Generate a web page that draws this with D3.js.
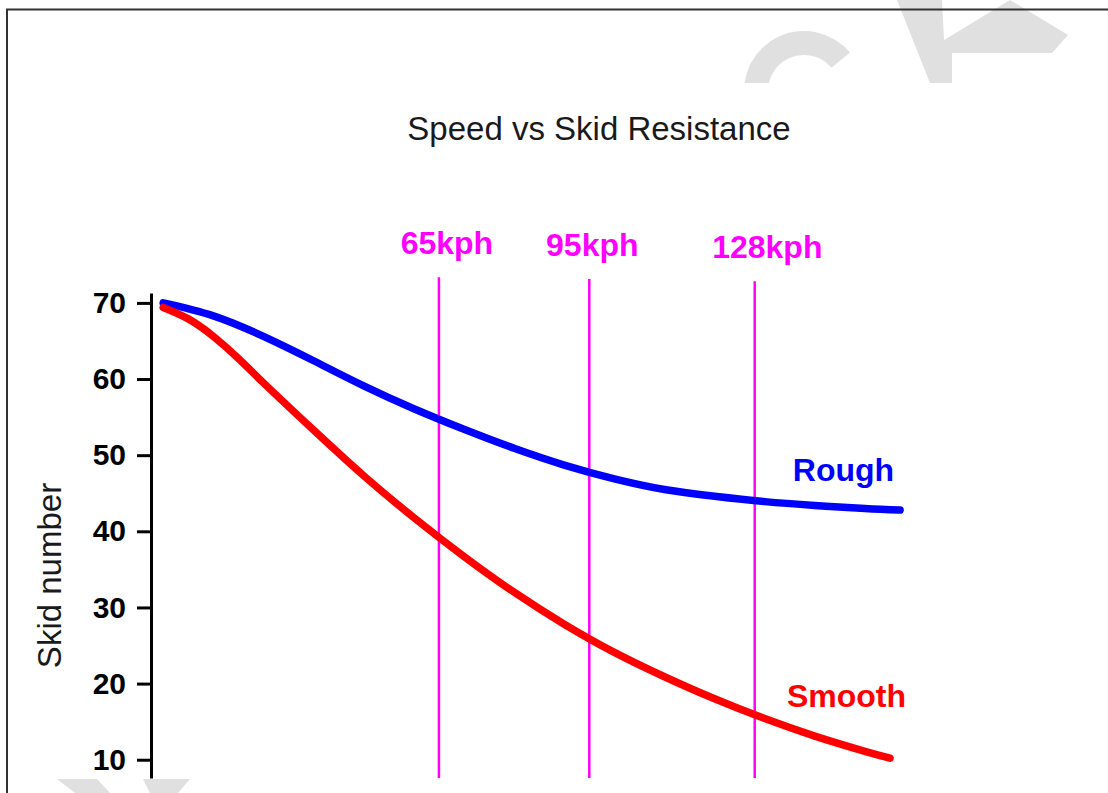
<!DOCTYPE html>
<html><head><meta charset="utf-8">
<script src="https://cdn.jsdelivr.net/npm/d3@7"></script>
<style>html,body{margin:0;padding:0;background:#fff;} svg{display:block;}</style>
</head><body>
<script>
// ---- data ----
const roughSpeed  = [10, 20, 30, 40, 50, 60, 70, 80, 90, 100, 110, 120, 130, 140, 150, 157];
const roughSkid   = [70, 68.3, 65.6, 62.4, 59.1, 56.1, 53.4, 50.9, 48.7, 46.9, 45.5, 44.6, 43.9, 43.4, 43.0, 42.8];
const smoothSpeed = [10, 15, 20, 25, 30, 40, 50, 60, 70, 80, 90, 100, 110, 120, 130, 140, 150, 155];
const smoothSkid  = [69.4, 67.9, 65.6, 62.7, 59.5, 53.3, 47.3, 41.8, 36.7, 32.0, 27.8, 24.1, 20.9, 18.0, 15.4, 13.1, 11.1, 10.2];
const markerSpeeds = [65, 95, 128];
const markerLabels = ["65kph", "95kph", "128kph"];
const yTicks = [10, 20, 30, 40, 50, 60, 70];
const seriesNames = ["Rough", "Smooth"];

// ---- layout ----
const W = 1108, H = 793;
const FONT = "'Liberation Sans', Arial, Helvetica, sans-serif";
const markerLayout = [{dx: 8, base: 254.3}, {dx: 3, base: 256}, {dx: 12.6, base: 258.3}];
const plotBottom = 778;

const x = d3.scaleLinear().domain([0, 160]).range([113.1, 915.1]);
const y = d3.scaleLinear().domain([7.6, 71.3]).range([plotBottom, 293]);

const svg = d3.select("body").append("svg").attr("width", W).attr("height", H);
svg.append("rect").attr("width", W).attr("height", H).attr("fill", "#fff");

// watermark fragments (behind the white panel)
const wm = svg.append("g").attr("fill", "#e0e0e0");
wm.append("path").attr("transform", "translate(804,91)")
  .attr("d", d3.arc()({innerRadius: 36, outerRadius: 60, startAngle: -100 * Math.PI / 180, endAngle: 50 * Math.PI / 180}));
wm.append("path").attr("d", "M897,0L942,0L944,40L1010,0L1068,35L1052,53L952,53L952,83L930,83Z");
wm.append("path").attr("d", "M57,779L97,779L110,793L75,793Z");
wm.append("path").attr("d", "M143,779L190,779L178,793L150,793Z");

// white panel
svg.append("rect").attr("x", 8).attr("y", 83).attr("width", W - 8).attr("height", plotBottom - 83).attr("fill", "#fff");

// frame
svg.append("path").attr("d", "M7,793V9.5H1108").attr("fill", "none").attr("stroke", "#333").attr("stroke-width", 2);

// title
svg.append("text").attr("x", 599).attr("y", 140).attr("text-anchor", "middle")
  .attr("font-family", FONT).attr("font-size", 33).attr("fill", "#1a1a1a")
  .text("Speed vs Skid Resistance");

// y label
svg.append("text").attr("transform", "translate(61,575.5) rotate(-90)").attr("text-anchor", "middle")
  .attr("font-family", FONT).attr("font-size", 33).attr("fill", "#1a1a1a")
  .text("Skid number");

// y axis
const ax = svg.append("g").attr("transform", "translate(151,0)")
  .call(d3.axisLeft(y).tickValues(yTicks).tickSize(14).tickSizeOuter(0).tickPadding(11).tickFormat(d3.format("d")));
ax.select(".domain").attr("stroke", "#000").attr("stroke-width", 3);
ax.selectAll(".tick line").attr("stroke", "#000").attr("stroke-width", 3);
ax.selectAll(".tick text").attr("font-family", FONT).attr("font-size", 30)
  .attr("font-weight", "bold").attr("fill", "#000");

// speed markers
const mk = svg.append("g");
markerSpeeds.forEach((s, i) => {
  const L = markerLayout[i];
  mk.append("line").attr("x1", x(s)).attr("x2", x(s)).attr("y1", L.base + 23).attr("y2", plotBottom)
    .attr("stroke", "#ff00ff").attr("stroke-width", 2.5);
  mk.append("text").attr("x", x(s) + L.dx).attr("y", L.base).attr("text-anchor", "middle")
    .attr("font-family", FONT).attr("font-size", 32).attr("font-weight", "bold").attr("fill", "#ff00ff")
    .text(markerLabels[i]);
});

// curves
const line = d3.line().x(d => x(d[0])).y(d => y(d[1])).curve(d3.curveNatural);
const series = [
  {name: seriesNames[0], pts: d3.zip(roughSpeed, roughSkid), color: "#0000ff", ldx: -6, ldy: -29},
  {name: seriesNames[1], pts: d3.zip(smoothSpeed, smoothSkid), color: "#ff0000", ldx: 16, ldy: -51.6}
];
series.forEach(sr => {
  svg.append("path").attr("d", line(sr.pts)).attr("fill", "none").attr("stroke", sr.color)
    .attr("stroke-width", 7.5).attr("stroke-linecap", "round").attr("stroke-linejoin", "round");
  const last = sr.pts[sr.pts.length - 1];
  svg.append("text").attr("x", x(last[0]) + sr.ldx).attr("y", y(last[1]) + sr.ldy).attr("text-anchor", "end")
    .attr("font-family", FONT).attr("font-size", 32).attr("font-weight", "bold").attr("fill", sr.color)
    .text(sr.name);
});
</script>
</body></html>
